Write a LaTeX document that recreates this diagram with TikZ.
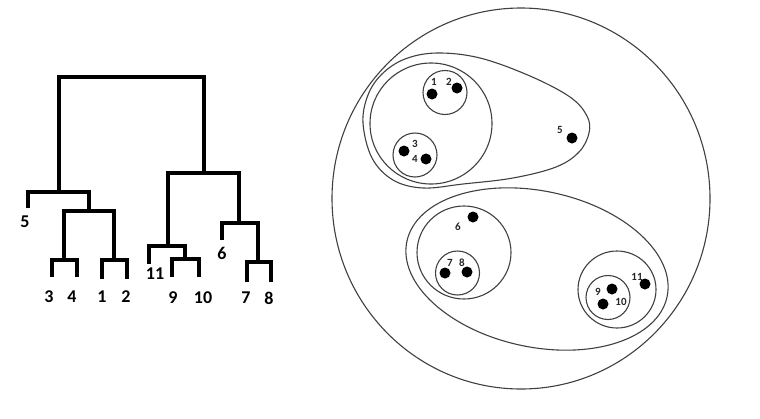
\documentclass[tikz,border=0pt]{standalone}
\usepackage{fontspec}
\setmainfont{Carlito}
\begin{document}
\begin{tikzpicture}[x=1pt,y=-1pt,
  dend/.style={line width=4.6pt,line cap=butt,line join=miter},
  dlab/.style={font=\fontsize{18}{18}\selectfont\bfseries,inner sep=0pt},
  ring/.style={draw=black!75,line width=1.1pt},
  pt/.style={circle,fill=black,inner sep=0pt,minimum size=11pt},
  plab/.style={font=\fontsize{11}{11}\selectfont\bfseries,text=black!85,inner sep=0pt}]
\useasboundingbox (0,0) rectangle (760,418);
% ---------- dendrogram ----------
\coordinate (r1) at (59,77);  \coordinate (r2) at (204,77);
\draw[dend] (59,192) -- (r1) -- (r2) -- (204,173);
% left subtree
\draw[dend] (28,208) -- (28,192) -- (89,192) -- (89,211);
\draw[dend] (64,260) -- (64,211) -- (114,211) -- (114,260);
\draw[dend] (52,277) -- (52,260) -- (77,260) -- (77,277);
\draw[dend] (102,279) -- (102,260) -- (127,260) -- (127,279);
% right subtree
\draw[dend] (168,246) -- (168,173) -- (239,173) -- (239,223);
\draw[dend] (149,264) -- (149,246) -- (185,246) -- (185,259);
\draw[dend] (172,277) -- (172,259) -- (199,259) -- (199,277);
\draw[dend] (222,240) -- (222,223) -- (258,223) -- (258,262);
\draw[dend] (247,282) -- (247,262) -- (271,262) -- (271,282);
% labels
\node[dlab] (l5) at (25,222) {5};
\node[dlab] (l3) at (49,297) {3};
\node[dlab] (l4) at (72,297) {4};
\node[dlab] (l1) at (102,297) {1};
\node[dlab] (l2) at (126,297) {2};
\node[dlab] (l11) at (155,274) {11};
\node[dlab] (l9) at (173,298) {9};
\node[dlab] (l10) at (203,298) {10};
\node[dlab] (l6) at (222,253) {6};
\node[dlab] (l7) at (246,298) {7};
\node[dlab] (l8) at (269,298) {8};
% ---------- cluster picture ----------
\draw[ring] (521,198.5) ellipse [x radius=189, y radius=190.5];
\draw[ring] plot[smooth cycle,tension=0.6] coordinates {
 (363,123) (368,95) (382,74) (405,59) (437,53) (480,58) (530,76) (570,97) (587,116)
 (589,133) (579,152) (556,167) (513,178) (463,184) (423,188) (393,180) (372,158)};
\draw[ring] (431,123.5) ellipse [x radius=61, y radius=60.5];
\draw[ring] (445,92.5) circle [radius=22];
\draw[ring] (415,155) circle [radius=22];
\draw[ring,rotate around={-12:(537,269)}] (537,269) ellipse [x radius=133, y radius=78];
\draw[ring] (464,252.5) ellipse [x radius=47, y radius=46.5];
\draw[ring] (457.5,273) circle [radius=22];
\draw[ring] (617,289.5) ellipse [x radius=39, y radius=38.5];
\draw[ring] (608,297.5) circle [radius=22];
% points
\node[pt] (p1) at (432,94) {};
\node[pt] (p2) at (457,88) {};
\node[pt] (p3) at (404,151) {};
\node[pt] (p4) at (426,159) {};
\node[pt] (p5) at (572,138) {};
\node[pt] (p6) at (473,217) {};
\node[pt] (p7) at (445,273) {};
\node[pt] (p8) at (467,272) {};
\node[pt] (p9) at (612,289) {};
\node[pt] (p10) at (603,304) {};
\node[pt] (p11) at (645,284) {};
% point labels
\node[plab] at (434,82) {1};
\node[plab] at (449,82) {2};
\node[plab] at (415,144) {3};
\node[plab] at (415,159) {4};
\node[plab] at (560,130) {5};
\node[plab] at (458,227) {6};
\node[plab] at (450,263) {7};
\node[plab] at (462,263) {8};
\node[plab] at (598,292) {9};
\node[plab] at (621,302) {10};
\node[plab] at (637,277) {11};
\end{tikzpicture}
\end{document}
